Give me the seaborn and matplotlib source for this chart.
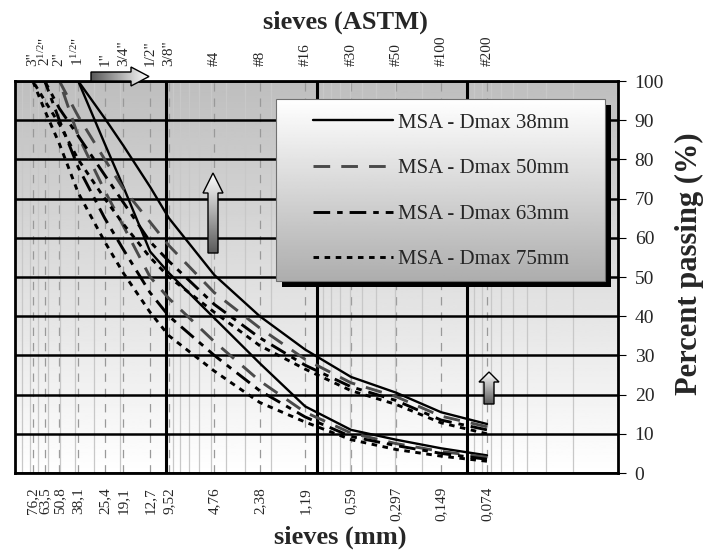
import numpy as np
import pandas as pd
import seaborn as sns
import matplotlib.pyplot as plt
from matplotlib.patches import Polygon, Rectangle
from matplotlib.ticker import FixedLocator, LogLocator, NullFormatter

nan = np.nan

# aberturas das peneiras (mm) e nomes ASTM
sieves_mm = [76.2, 63.5, 50.8, 38.1, 25.4, 19.1, 12.7, 9.52, 4.76, 2.38, 1.19, 0.59, 0.297, 0.149, 0.074]
labels_mm = ['76,2', '63,5', '50,8', '38,1', '25,4', '19,1', '12,7', '9,52', '4,76', '2,38', '1,19',
             '0,59', '0,297', '0,149', '0,074']
labels_astm = ['3"', '2$^{1/2}$"', '2"', '1$^{1/2}$"', '1"', '3/4"', '1/2"', '3/8"', '#4', '#8', '#16',
               '#30', '#50', '#100', '#200']

# curvas granulometricas (limite superior / inferior)
sup_38 = [nan, nan, nan, 100, 90.5, 83.5, 73, 65, 50.5, 40, 31.5, 24.5, 20.5, 15.5, 12.5]
inf_38 = [nan, nan, nan, 100, 84, 73, 56.5, 51, 39.5, 28, 17, 11, 8.5, 6.3, 4.5]
sup_50 = [nan, nan, 100, 91, 80, 72.5, 64, 58, 46, 37, 29, 23, 19.5, 14.5, 11.8]
inf_50 = [nan, nan, 100, 86, 72, 63, 50, 44.5, 33.5, 23.5, 15.5, 10.2, 7.5, 5.5, 4]
sup_63 = [nan, 100, 93, 86, 76, 69, 59, 54, 43, 34.5, 27.5, 22, 18.5, 13.5, 11]
inf_63 = [nan, 100, 90, 78, 65, 57, 46, 40, 30, 21, 14.3, 9.3, 7, 5, 3.5]
sup_75 = [100, 95, 89, 80, 70, 63.5, 55, 50, 41, 32.5, 26.5, 21, 17.5, 12.8, 10]
inf_75 = [100, 92.5, 84, 71.5, 59, 51, 41, 35, 26, 18, 13, 8.5, 6, 4.3, 3]

series = ['MSA - Dmax 38mm', 'MSA - Dmax 50mm', 'MSA - Dmax 63mm', 'MSA - Dmax 75mm']
curvas = {series[0]: (sup_38, inf_38), series[1]: (sup_50, inf_50),
          series[2]: (sup_63, inf_63), series[3]: (sup_75, inf_75)}

estilos = {series[0]: dict(color='black', linestyle='-', linewidth=1.7),
           series[1]: dict(color='#4a4a4a', linestyle=(0, (12, 8)), linewidth=2.1),
           series[2]: dict(color='black', linestyle=(0, (12, 5, 4, 5)), linewidth=2.1),
           series[3]: dict(color='black', linestyle=(0, (4, 4)), linewidth=2.1)}

sns.set_theme(style='white')
plt.rcParams['font.family'] = ['Liberation Serif', 'DejaVu Serif']
plt.rcParams['mathtext.fontset'] = 'custom'
plt.rcParams['mathtext.rm'] = 'Liberation Serif'
plt.rcParams['mathtext.it'] = 'Liberation Serif:italic'
plt.rcParams['lines.scale_dashes'] = False

W, H = 707, 551
fig = plt.figure(figsize=(W / 100, H / 100), dpi=100)
pos = [15 / W, 1 - 473 / H, 603 / W, 392 / H]

# fundo em degrade
bg = fig.add_axes(pos, zorder=0)
grad = np.linspace(0.745, 1.0, 256).reshape(-1, 1)
bg.imshow(grad, cmap='gray', vmin=0, vmax=1, aspect='auto', extent=[0, 1, 0, 1], origin='upper')
bg.axis('off')

ax = fig.add_axes(pos, zorder=1)
ax.patch.set_alpha(0)
ax.set_xscale('log')

for nome in series:
    sup, inf = curvas[nome]
    for vals in (sup, inf):
        df = pd.DataFrame({'mm': sieves_mm, 'passante': vals}).dropna()
        sns.lineplot(data=df, x='mm', y='passante', ax=ax, label=None, **estilos[nome])

ax.set_xlim(100, 0.01)
ax.set_ylim(0, 100)

# grades
ax.xaxis.set_major_locator(FixedLocator(sieves_mm))
ax.set_xticklabels(labels_mm, rotation=90, fontsize=11)
ax.xaxis.set_minor_locator(LogLocator(base=10, subs=np.arange(2, 10)))
ax.xaxis.set_minor_formatter(NullFormatter())
ax.grid(which='major', axis='x', color='#999999', linestyle=(0, (6, 5)), linewidth=0.9)
ax.grid(which='minor', axis='x', color='#c8c8c8', linestyle='-', linewidth=0.9)
ax.set_yticks(np.arange(0, 101, 10))
ax.grid(which='major', axis='y', color='black', linewidth=1.8)
for d in (10, 1, 0.1):
    ax.axvline(d, color='black', linewidth=2.2, zorder=1.5)
ax.set_axisbelow(True)
ax.tick_params(axis='x', which='both', length=0, pad=10)

ax.yaxis.tick_right()
ax.tick_params(axis='y', length=6, width=0.8, color='black', labelsize=14, pad=6, direction='out')
ax.yaxis.set_label_position('right')
ax.set_ylabel('Percent passing (%)', fontsize=22, fontweight='bold')
ax.yaxis.set_label_coords(1.095, 0.533)

for s in ax.spines.values():
    s.set_color('black')
    s.set_linewidth(2)
    s.set_visible(True)

ax.set_xlabel('sieves (mm)', fontsize=19, fontweight='bold')
ax.xaxis.set_label_coords(0.539, -0.135)

# eixo superior ASTM
top = ax.secondary_xaxis('top')
top.set_xticks(sieves_mm)
top.set_xticklabels(labels_astm, rotation=90, fontsize=11)
top.xaxis.set_minor_formatter(NullFormatter())
top.tick_params(axis='x', which='both', length=0, pad=11)
top.spines['top'].set_visible(False)
ax.set_title('sieves (ASTM)', fontsize=19, fontweight='bold', x=0.548, y=1.135, pad=0)

# camada de sobreposicao (setas e caixa da legenda)
ov = fig.add_axes([0, 0, 1, 1], zorder=2)
ov.patch.set_alpha(0)
ov.axis('off')


def degrade(pts, horizontal, escuro=0.35, zorder=3):
    poly = Polygon(pts, closed=True, facecolor='none', edgecolor='black', linewidth=1.0, zorder=zorder + 0.1)
    ov.add_patch(poly)
    xs = [p[0] for p in pts]
    ys = [p[1] for p in pts]
    if horizontal:
        g = np.linspace(escuro, 1.0, 128).reshape(1, -1)
    else:
        g = np.linspace(1.0, escuro, 128).reshape(-1, 1)
    im = ov.imshow(g, cmap='gray', vmin=0, vmax=1, aspect='auto',
                   extent=[min(xs), max(xs), max(ys), min(ys)], origin='upper', zorder=zorder)
    im.set_clip_path(poly)


degrade([(91, 72), (131, 72), (131, 67), (149, 76.5), (131, 86), (131, 81), (91, 81)], True)
degrade([(208, 253), (208, 193), (203, 193), (213, 173), (223, 193), (218, 193), (218, 253)], False)
degrade([(484, 404), (484, 382), (479, 382), (489, 372), (499, 382), (494, 382), (494, 404)], False)

# caixa da legenda com sombra
ov.add_patch(Rectangle((282, 105), 329, 182, facecolor='black', edgecolor='none', zorder=3))
caixa = Rectangle((276, 99), 329, 182, facecolor='none', edgecolor='#707070', linewidth=0.8, zorder=3.2)
ov.add_patch(caixa)
gl = np.linspace(1.0, 0.68, 128).reshape(-1, 1)
imc = ov.imshow(gl, cmap='gray', vmin=0, vmax=1, aspect='auto', extent=[276, 605, 281, 99],
                origin='upper', zorder=3.1)
imc.set_clip_path(caixa)
ov.set_xlim(0, W)
ov.set_ylim(H, 0)

handles = [plt.Line2D([], [], **estilos[n]) for n in series]
fig.legend(handles, series, loc='upper left', bbox_to_anchor=(313 / W, 1 - 113 / H), frameon=False,
           fontsize=15, handlelength=3.85, handletextpad=0.25, labelspacing=1.25, borderpad=0,
           borderaxespad=0)

fig.savefig('out.png', dpi=100)
